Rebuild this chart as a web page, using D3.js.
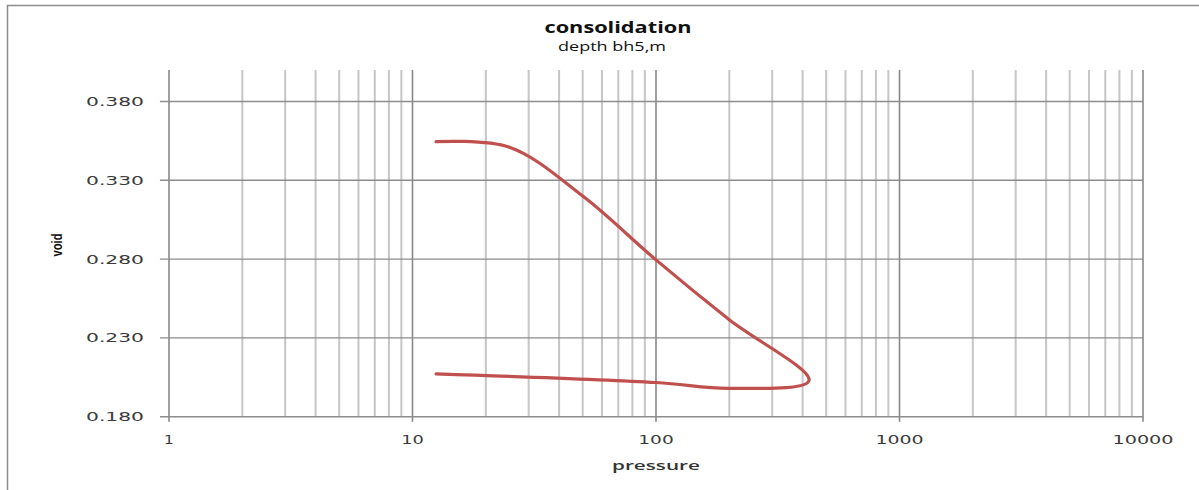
<!DOCTYPE html>
<html>
<head>
<meta charset="utf-8">
<script src="https://cdn.jsdelivr.net/npm/d3@7"></script>
<style>
  html, body { margin: 0; padding: 0; background: #fff; }
  svg { display: block; }
</style>
</head>
<body>
<svg id="chart" width="1199" height="490"></svg>
<script>
// Consolidation test: void ratio against applied pressure (log scale)
const pressure = [12.5, 25, 50, 100, 200, 425, 200, 100, 12.5];
const voidRatio = [0.3545, 0.351, 0.320, 0.2795, 0.2415, 0.2029, 0.1980, 0.2017, 0.2072];

const xTickValues = [1, 10, 100, 1000, 10000];
const xTickLabels = ["1", "10", "100", "1000", "10000"];
const yTickValues = [0.18, 0.23, 0.28, 0.33, 0.38];
const yTickLabels = ["0.180", "0.230", "0.280", "0.330", "0.380"];

const titleText = "consolidation";
const subtitleText = "depth bh5,m";
const xTitle = "pressure";
const yTitle = "void";

const W = 1199, H = 490;
const plot = { left: 169, right: 1143, top: 70, bottom: 416.7 };

const svg = d3.select("#chart");

// outer chart frame
svg.append("rect")
  .attr("x", 7.5).attr("y", 5.5)
  .attr("width", W + 20).attr("height", H + 20)
  .attr("fill", "#fff")
  .attr("stroke", "#8c8c8c").attr("stroke-width", 1.5);

const x = d3.scaleLog().domain([1, 10000]).range([plot.left, plot.right]);
const y = d3.scaleLinear().domain([0.18, 0.40]).range([plot.bottom, plot.top]);

const g = svg.append("g");

// minor vertical gridlines (2..9 within each decade)
const minorX = [];
for (let d = 1; d < 10000; d *= 10) {
  for (let k = 2; k <= 9; k++) minorX.push(d * k);
}
g.selectAll(".minor-x").data(minorX).join("line")
  .attr("class", "minor-x")
  .attr("x1", d => x(d)).attr("x2", d => x(d))
  .attr("y1", plot.top).attr("y2", plot.bottom)
  .attr("stroke", "#c6c6c6").attr("stroke-width", 2);

// major vertical gridlines at decades
g.selectAll(".major-x").data(xTickValues).join("line")
  .attr("class", "major-x")
  .attr("x1", d => x(d)).attr("x2", d => x(d))
  .attr("y1", plot.top).attr("y2", plot.bottom + 5)
  .attr("stroke", "#888").attr("stroke-width", 1.6);

// horizontal gridlines
g.selectAll(".major-y").data(yTickValues).join("line")
  .attr("class", "major-y")
  .attr("x1", plot.left - 9).attr("x2", plot.right)
  .attr("y1", d => y(d)).attr("y2", d => y(d))
  .attr("stroke", "#8c8c8c").attr("stroke-width", 1.4);

// y axis labels
const tickFont = "DejaVu Sans, Verdana, sans-serif";
g.selectAll(".ylab").data(yTickValues).join("text")
  .attr("class", "ylab")
  .attr("x", 144).attr("y", d => y(d) + 4.5)
  .attr("text-anchor", "end")
  .attr("font-family", tickFont).attr("font-size", 12)
  .attr("fill", "#3a3a3a")
  .attr("textLength", 58).attr("lengthAdjust", "spacingAndGlyphs")
  .text((d, i) => yTickLabels[i]);

// x axis labels
g.selectAll(".xlab").data(xTickValues).join("text")
  .attr("class", "xlab")
  .attr("x", d => x(d)).attr("y", 444)
  .attr("text-anchor", "middle")
  .attr("font-family", tickFont).attr("font-size", 12)
  .attr("fill", "#3a3a3a")
  .attr("textLength", (d, i) => xTickLabels[i].length * 12.8 - 3)
  .attr("lengthAdjust", "spacingAndGlyphs")
  .text((d, i) => xTickLabels[i]);

// void ratio curve
const pts = pressure.map((p, i) => [p, voidRatio[i]]);
const line = d3.line()
  .x(d => x(d[0])).y(d => y(d[1]))
  .curve(d3.curveCatmullRom.alpha(0.5));
g.append("path")
  .attr("d", line(pts))
  .attr("fill", "none")
  .attr("stroke", "#c0504d").attr("stroke-width", 3.2)
  .attr("stroke-linejoin", "round").attr("stroke-linecap", "round");

// titles
svg.append("text")
  .attr("x", 618).attr("y", 33)
  .attr("text-anchor", "middle")
  .attr("font-family", "Open Sans, Liberation Sans, sans-serif")
  .attr("font-weight", "bold").attr("font-size", 16)
  .attr("fill", "#111")
  .attr("textLength", 147).attr("lengthAdjust", "spacingAndGlyphs")
  .text(titleText);

svg.append("text")
  .attr("x", 612).attr("y", 51)
  .attr("text-anchor", "middle")
  .attr("font-family", "Open Sans, Liberation Sans, sans-serif")
  .attr("font-size", 12)
  .attr("fill", "#111")
  .attr("textLength", 108).attr("lengthAdjust", "spacingAndGlyphs")
  .text(subtitleText);

svg.append("text")
  .attr("x", 656).attr("y", 470)
  .attr("text-anchor", "middle")
  .attr("font-family", "Open Sans, Liberation Sans, sans-serif")
  .attr("font-weight", "600").attr("font-size", 13)
  .attr("fill", "#333")
  .attr("textLength", 88).attr("lengthAdjust", "spacingAndGlyphs")
  .text(xTitle);

svg.append("text")
  .attr("transform", "translate(62,245) rotate(-90)")
  .attr("text-anchor", "middle")
  .attr("font-family", "Liberation Sans Narrow, Liberation Sans, sans-serif")
  .attr("font-weight", "bold").attr("font-size", 14)
  .attr("fill", "#111")
  .attr("textLength", 23).attr("lengthAdjust", "spacingAndGlyphs")
  .text(yTitle);
</script>
</body>
</html>
